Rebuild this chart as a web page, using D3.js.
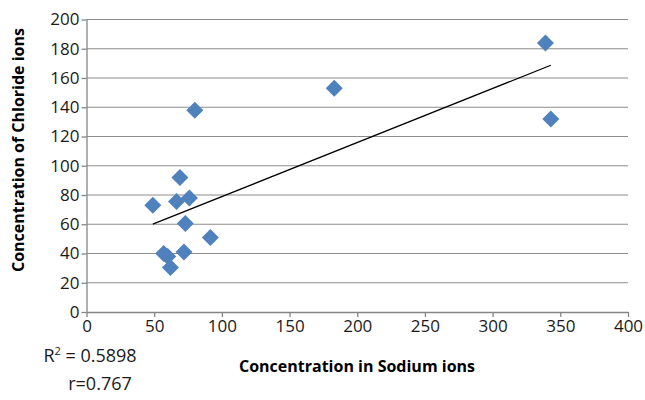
<!DOCTYPE html>
<html lang="en">
<head>
    <meta charset="UTF-8">
    <title>Sodium vs Chloride</title>
    <style>
        body { margin: 0; background: #fff; font-family: "Open Sans", sans-serif; }
    </style>
    <script src="https://d3js.org/d3.v7.min.js"></script>
</head>
<body>
    <script>
        // sodium (x) and chloride (y) concentrations
        var sodium   = [49, 183, 339, 343, 80, 69, 66.5, 76, 73, 91.5, 72, 57, 60, 62];
        var chloride = [73, 153, 184, 132, 138, 92, 75.5, 78, 60.5, 51, 41, 40, 38, 30.5];
        var xTicks = [0, 50, 100, 150, 200, 250, 300, 350, 400];
        var yTicks = [0, 20, 40, 60, 80, 100, 120, 140, 160, 180, 200];

        var width = 645, height = 400;
        var padL = 86.5, padR = 628, padT = 19.5, padB = 312;

        var svg = d3.select("body").append("svg")
            .attr("width", width)
            .attr("height", height);

        var x = d3.scaleLinear().domain([0, 400]).range([padL, padR]);
        var y = d3.scaleLinear().domain([0, 200]).range([padB, padT]);

        // gridlines
        svg.selectAll(".grid")
            .data(yTicks.slice(1))
            .enter().append("line")
            .attr("x1", padL).attr("x2", padR)
            .attr("y1", d => y(d)).attr("y2", d => y(d))
            .attr("stroke", "#8c8c8c").attr("stroke-width", 1.2);

        var xAxis = svg.append("g")
            .attr("transform", "translate(0," + padB + ")")
            .call(d3.axisBottom(x).tickValues(xTicks).tickSize(5).tickSizeOuter(0).tickPadding(3));
        var yAxis = svg.append("g")
            .attr("transform", "translate(" + padL + ",0)")
            .call(d3.axisLeft(y).tickValues(yTicks).tickSize(5).tickSizeOuter(0).tickPadding(2));

        [xAxis, yAxis].forEach(function(g) {
            g.selectAll("path, line").attr("stroke", "#868686").attr("stroke-width", 1.3);
            g.selectAll("text").attr("fill", "#1a1a1a").style("font-size", "17px")
                .style("font-family", "'Open Sans', sans-serif");
        });

        // least-squares trend line
        var mx = d3.mean(sodium), my = d3.mean(chloride);
        var sxy = d3.sum(sodium, (v, i) => (v - mx) * (chloride[i] - my));
        var sxx = d3.sum(sodium, v => (v - mx) * (v - mx));
        var slope = sxy / sxx, icept = my - slope * mx;
        var ext = d3.extent(sodium);
        svg.append("line")
            .attr("x1", x(ext[0])).attr("y1", y(icept + slope * ext[0]))
            .attr("x2", x(ext[1])).attr("y2", y(icept + slope * ext[1]))
            .attr("stroke", "#000").attr("stroke-width", 1.3);

        // diamond markers
        var pts = sodium.map((v, i) => [v, chloride[i]]);
        svg.selectAll(".pt")
            .data(pts)
            .enter().append("path")
            .attr("d", "M0,-8.5L8.5,0L0,8.5L-8.5,0Z")
            .attr("transform", d => "translate(" + x(d[0]) + "," + y(d[1]) + ")")
            .attr("fill", "#4f81bd");

        svg.append("text")
            .attr("x", 357).attr("y", 372)
            .attr("text-anchor", "middle")
            .style("font-size", "16px").style("font-weight", "bold")
            .text("Concentration in Sodium ions");

        svg.append("text")
            .attr("transform", "translate(24,150) rotate(-90)")
            .attr("text-anchor", "middle")
            .style("font-size", "16px").style("font-weight", "bold")
            .text("Concentration of Chloride ions");

        var r2 = svg.append("text")
            .attr("x", 90).attr("y", 362)
            .attr("text-anchor", "middle")
            .style("font-size", "18px").attr("fill", "#1a1a1a");
        r2.append("tspan").text("R");
        r2.append("tspan").attr("dy", -7).style("font-size", "11px").text("2");
        r2.append("tspan").attr("dy", 7).text(" = 0.5898");

        svg.append("text")
            .attr("x", 100).attr("y", 390)
            .attr("text-anchor", "middle")
            .style("font-size", "18px").attr("fill", "#1a1a1a")
            .text("r=0.767");
    </script>
</body>
</html>
